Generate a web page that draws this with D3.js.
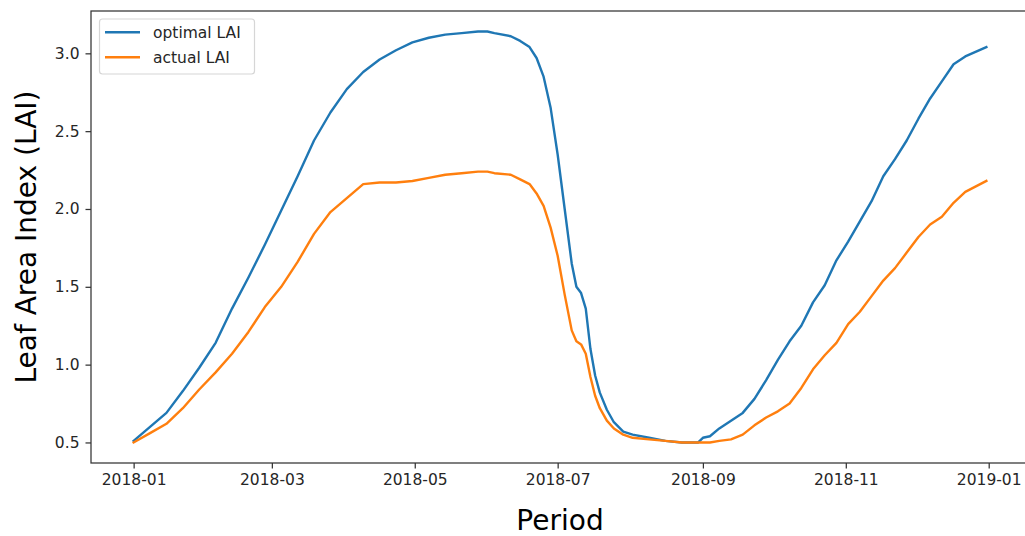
<!DOCTYPE html>
<html>
<head>
<meta charset="utf-8">
<script src="https://cdn.jsdelivr.net/npm/d3@7"></script>
<style>
  html, body { margin: 0; padding: 0; background: #fff; }
  svg { display: block; font-family: "DejaVu Sans", sans-serif; }
</style>
</head>
<body>
<svg id="chart" width="1025" height="536"></svg>
<script>
// Sample dates (days since 2018-01-01) and LAI readings for each series
const dayOffsets = [0, 7, 14, 21, 28, 35, 42, 49, 56, 63, 70, 77, 84, 91, 98, 105, 112, 119, 126, 133,
  140, 147, 151, 154, 161, 165, 169, 172, 175, 178, 181, 184, 187, 189, 191, 193, 195, 197, 199, 202,
  205, 209, 213, 220, 227, 234, 241, 243, 246, 250, 255, 260, 265, 270, 275, 280, 285, 290, 295, 300,
  305, 310, 315, 320, 325, 330, 335, 340, 345, 350, 355, 364];

const optimalLAI = [0.51, 0.60, 0.69, 0.83, 0.98, 1.14, 1.36, 1.56, 1.77, 1.99, 2.21, 2.44, 2.62, 2.77, 2.88, 2.96, 3.02, 3.07, 3.10, 3.12,
  3.13, 3.14, 3.14, 3.13, 3.11, 3.08, 3.04, 2.97, 2.85, 2.65, 2.35, 2.00, 1.65, 1.50, 1.46, 1.36, 1.10, 0.93, 0.82, 0.71,
  0.63, 0.57, 0.55, 0.53, 0.51, 0.50, 0.50, 0.53, 0.54, 0.59, 0.64, 0.69, 0.78, 0.90, 1.03, 1.15, 1.25, 1.40, 1.51, 1.67,
  1.79, 1.92, 2.05, 2.21, 2.32, 2.44, 2.58, 2.71, 2.82, 2.93, 2.98, 3.04];

const actualLAI = [0.50, 0.56, 0.62, 0.72, 0.84, 0.95, 1.07, 1.21, 1.37, 1.50, 1.66, 1.84, 1.98, 2.07, 2.16, 2.17, 2.17, 2.18, 2.20, 2.22,
  2.23, 2.24, 2.24, 2.23, 2.22, 2.19, 2.16, 2.10, 2.02, 1.88, 1.70, 1.45, 1.22, 1.15, 1.13, 1.07, 0.92, 0.80, 0.72, 0.64,
  0.59, 0.55, 0.53, 0.52, 0.51, 0.50, 0.50, 0.50, 0.50, 0.51, 0.52, 0.55, 0.61, 0.66, 0.70, 0.75, 0.85, 0.97, 1.06, 1.14,
  1.26, 1.34, 1.44, 1.54, 1.62, 1.72, 1.82, 1.90, 1.95, 2.04, 2.11, 2.18];

const seriesNames = ["optimal LAI", "actual LAI"];
const seriesColors = ["#1f77b4", "#ff7f0e"];
const xTickLabels = ["2018-01", "2018-03", "2018-05", "2018-07", "2018-09", "2018-11", "2019-01"];
const yTickValues = [0.5, 1.0, 1.5, 2.0, 2.5, 3.0];

const startDate = Date.UTC(2018, 0, 1);
const dayMs = 86400000;
const dates = dayOffsets.map(d => new Date(startDate + d * dayMs));

const svg = d3.select("#chart");
const plot = { left: 91, right: 1029, top: 11, bottom: 463 };

// 5% padding around the data extent on both axes
const xExt = d3.extent(dates);
const xPad = (xExt[1] - xExt[0]) * 0.05;
const x = d3.scaleUtc()
  .domain([new Date(+xExt[0] - xPad), new Date(+xExt[1] + xPad)])
  .range([plot.left, plot.right]);

const yMin = d3.min([...optimalLAI, ...actualLAI]);
const yMax = d3.max([...optimalLAI, ...actualLAI]);
const yPad = (yMax - yMin) * 0.05;
const y = d3.scaleLinear()
  .domain([yMin - yPad, yMax + yPad])
  .range([plot.bottom, plot.top]);

const textColor = "#262626";
const fontTick = 15.5;

// Axes
const xTickDates = xTickLabels.map(s => new Date(s + "-01T00:00:00Z"));
const xAxis = d3.axisBottom(x)
  .tickValues(xTickDates)
  .tickFormat(d3.utcFormat("%Y-%m"))
  .tickSize(5.5)
  .tickPadding(5.5);
const yAxis = d3.axisLeft(y)
  .tickValues(yTickValues)
  .tickFormat(d3.format(".1f"))
  .tickSize(5.5)
  .tickPadding(6);

const gx = svg.append("g").attr("transform", `translate(0,${plot.bottom})`).call(xAxis);
const gy = svg.append("g").attr("transform", `translate(${plot.left},0)`).call(yAxis);
[gx, gy].forEach(g => {
  g.select(".domain").remove();
  g.selectAll(".tick line").attr("stroke", "#333").attr("stroke-width", 1.25);
  g.selectAll(".tick text").attr("fill", textColor).attr("font-size", fontTick)
    .attr("font-family", "DejaVu Sans, sans-serif");
});

// Lines
const line = d3.line().x((d, i) => x(dates[i])).y(d => y(d)).curve(d3.curveLinear);
[optimalLAI, actualLAI].forEach((vals, k) => {
  svg.append("path")
    .datum(vals)
    .attr("d", line)
    .attr("fill", "none")
    .attr("stroke", seriesColors[k])
    .attr("stroke-width", 2.4)
    .attr("stroke-linejoin", "round")
    .attr("stroke-linecap", "square");
});

// Spines (right side falls outside the visible canvas)
svg.append("rect")
  .attr("x", plot.left).attr("y", plot.top)
  .attr("width", plot.right - plot.left).attr("height", plot.bottom - plot.top)
  .attr("fill", "none").attr("stroke", "#333").attr("stroke-width", 1.25);

// Legend
const legend = svg.append("g");
legend.append("rect")
  .attr("x", 99.5).attr("y", 19).attr("width", 155).attr("height", 55)
  .attr("rx", 3).attr("fill", "#fff").attr("fill-opacity", 0.8)
  .attr("stroke", "#d6d6d6").attr("stroke-width", 1.2);
seriesNames.forEach((name, k) => {
  const ly = 32.3 + k * 25;
  legend.append("line")
    .attr("x1", 105).attr("x2", 140).attr("y1", ly).attr("y2", ly)
    .attr("stroke", seriesColors[k]).attr("stroke-width", 2.4);
  legend.append("text")
    .attr("x", 153).attr("y", ly).attr("dy", "0.35em")
    .attr("font-size", fontTick).attr("fill", textColor)
    .text(name);
});

// Axis titles
svg.append("text")
  .attr("x", (plot.left + plot.right) / 2).attr("y", 530)
  .attr("text-anchor", "middle").attr("font-size", 28).attr("fill", "#000")
  .text("Period");
svg.append("text")
  .attr("transform", `translate(36,${(plot.top + plot.bottom) / 2}) rotate(-90)`)
  .attr("text-anchor", "middle").attr("font-size", 28).attr("fill", "#000")
  .text("Leaf Area Index (LAI)");
</script>
</body>
</html>
